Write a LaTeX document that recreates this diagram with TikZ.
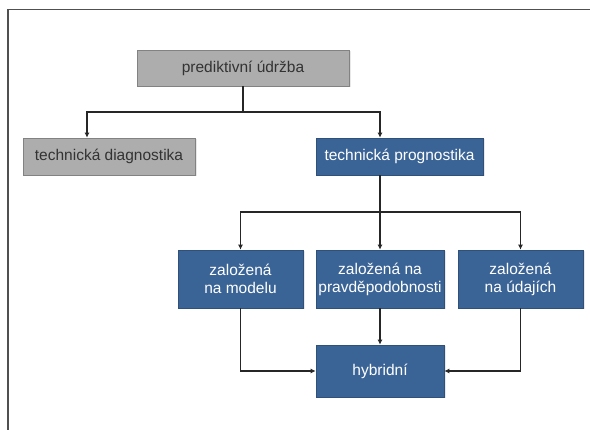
\documentclass[tikz,border=0pt]{standalone}
\usepackage{fontspec}
\setmainfont{Liberation Sans}
\usetikzlibrary{arrows.meta,positioning,shadows}
\definecolor{boxblue}{HTML}{3B6496}
\definecolor{boxgray}{HTML}{ADADAD}
\definecolor{framegray}{HTML}{505050}
\tikzset{
  graybox/.style={draw=boxgray!75!black,line width=.6pt,fill=boxgray,text=black!80,align=center,inner sep=2pt,font=\fontsize{15.5}{18}\selectfont,drop shadow={opacity=.18,shadow xshift=1.5pt,shadow yshift=-1.5pt}},
  bluebox/.style={draw=boxblue!80!black,line width=.6pt,fill=boxblue,text=white,align=center,inner sep=2pt,font=\fontsize{15.5}{18}\selectfont,drop shadow={opacity=.18,shadow xshift=1.5pt,shadow yshift=-1.5pt}},
  flow/.style={-{Latex[length=5pt,width=5pt]},line width=1.3pt,draw=black!85},
  treeline/.style={line width=1.3pt,draw=black!85},
}

\begin{document}
\begin{tikzpicture}[x=1pt,y=-1pt]
    \useasboundingbox (0,0) rectangle (590,430);
    \draw[line width=1.5pt,framegray] (590,9.5) -- (8,9.5) -- (8,430);
    \node[graybox,minimum width=212pt,minimum height=36pt] (pu) at (243,68) {prediktivní údržba};
    \node[graybox,minimum width=172pt,minimum height=37pt] (td) at (109,156.5) {technická diagnostika};
    \node[bluebox,minimum width=167pt,minimum height=37pt] (tp) at (399.5,156.5) {technická prognostika};
    \node[bluebox,minimum width=125pt,minimum height=58pt] (zm) at (240.5,279) {založená\\na modelu};
    \node[bluebox,minimum width=128pt,minimum height=58pt] (zp) at (380,279) {založená na\\pravděpodobnosti};
    \node[bluebox,minimum width=125pt,minimum height=58pt] (zd) at (520.5,279) {založená\\na údajích};
    \node[bluebox,minimum width=128pt,minimum height=52pt] (hy) at (380,371) {hybridní};
    \coordinate (j1) at (243,112);
    \coordinate (j2) at (380,212);
    \draw[treeline] (pu.south)--(j1);
    \draw[flow] (j1) -| ([xshift=-22pt]td.north);\draw[flow] (j1) -| ([xshift=-19.5pt]tp.north);
    \draw[treeline] ([xshift=-19.5pt]tp.south)--(j2);
    \draw[flow] (j2) -| (zm.north);\draw[flow] (j2)--(zp.north);\draw[flow] (j2) -| (zd.north);
    \draw[flow] (zm.south) |- (hy.west);\draw[flow] (zp)--(hy);\draw[flow] (zd.south) |- (hy.east);
  \end{tikzpicture}
\end{document}
